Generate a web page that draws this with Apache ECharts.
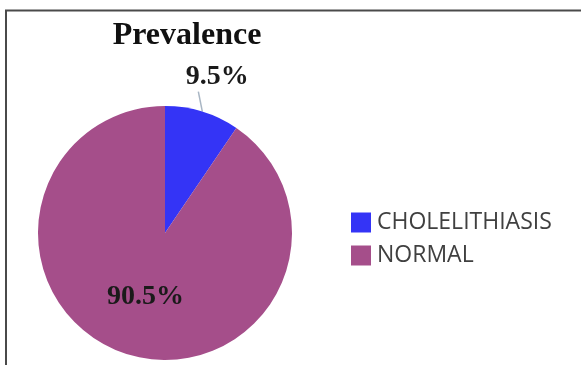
<!DOCTYPE html>
<html>
<head>
<meta charset="utf-8">
<script src="https://cdn.jsdelivr.net/npm/echarts@6/dist/echarts.min.js"></script>
<style>
  html, body { margin: 0; padding: 0; background: #fff; }
  #chart { width: 581px; height: 365px; }
</style>
</head>
<body>
<div id="chart"></div>
<script>
  // data
  var categories = ['CHOLELITHIASIS', 'NORMAL'];
  var values = [9.5, 90.5];
  var colors = ['#3434F6', '#A54E8A'];

  var chart = echarts.init(document.getElementById('chart'));

  var seriesData = categories.map(function (name, i) {
    var item = { name: name, value: values[i], itemStyle: { color: colors[i] } };
    if (i === 0) {
      // small slice: label sits outside with a short line
      item.label = { position: 'outside' };
      item.labelLine = { show: true, length: 20, length2: 0, lineStyle: { color: '#a9b6c4', width: 1.5 } };
    } else {
      item.label = { position: 'inside' };
      item.labelLine = { show: false };
    }
    return item;
  });

  var options = {
    animation: false,
    title: {
      text: 'Prevalence',
      left: 182,
      top: 15,
      textAlign: 'center',
      textStyle: {
        fontFamily: 'Liberation Serif',
        fontWeight: 'bold',
        fontSize: 32,
        color: '#111'
      }
    },
    legend: {
      orient: 'vertical',
      left: 351,
      top: 211,
      padding: 0,
      icon: 'rect',
      itemWidth: 20,
      itemHeight: 20,
      itemGap: 10,
      textStyle: {
        fontFamily: 'Open Sans',
        fontSize: 23,
        lineHeight: 23,
        color: '#404040',
        padding: [0, 0, 0, 1]
      },
      data: categories
    },
    graphic: [
      { type: 'line', shape: { x1: 5, y1: 10.5, x2: 581, y2: 10.5 }, style: { stroke: '#4a4a4a', lineWidth: 2 } },
      { type: 'line', shape: { x1: 6, y1: 10, x2: 6, y2: 365 }, style: { stroke: '#4a4a4a', lineWidth: 2 } }
    ],
    series: [{
      type: 'pie',
      center: [165, 233],
      radius: 127,
      startAngle: 90,
      clockwise: true,
      label: {
        show: true,
        formatter: function (p) { return p.value + '%'; },
        fontFamily: 'Liberation Serif',
        fontWeight: 'bold',
        fontSize: 28,
        color: '#1a1a1a'
      },
      labelLayout: function (params) {
        if (params.dataIndex !== 0) return {};
        var pts = params.labelLinePoints;
        var end = pts[pts.length - 1];
        return {
          x: end[0] + 9,
          y: end[1] - 2,
          align: 'center',
          verticalAlign: 'bottom',
          labelLinePoints: [pts[0], [pts[0][0] - 4, pts[0][1] - 20], [pts[0][0] - 4, pts[0][1] - 20]]
        };
      },
      data: seriesData
    }]
  };

  chart.setOption(options);
</script>
</body>
</html>
